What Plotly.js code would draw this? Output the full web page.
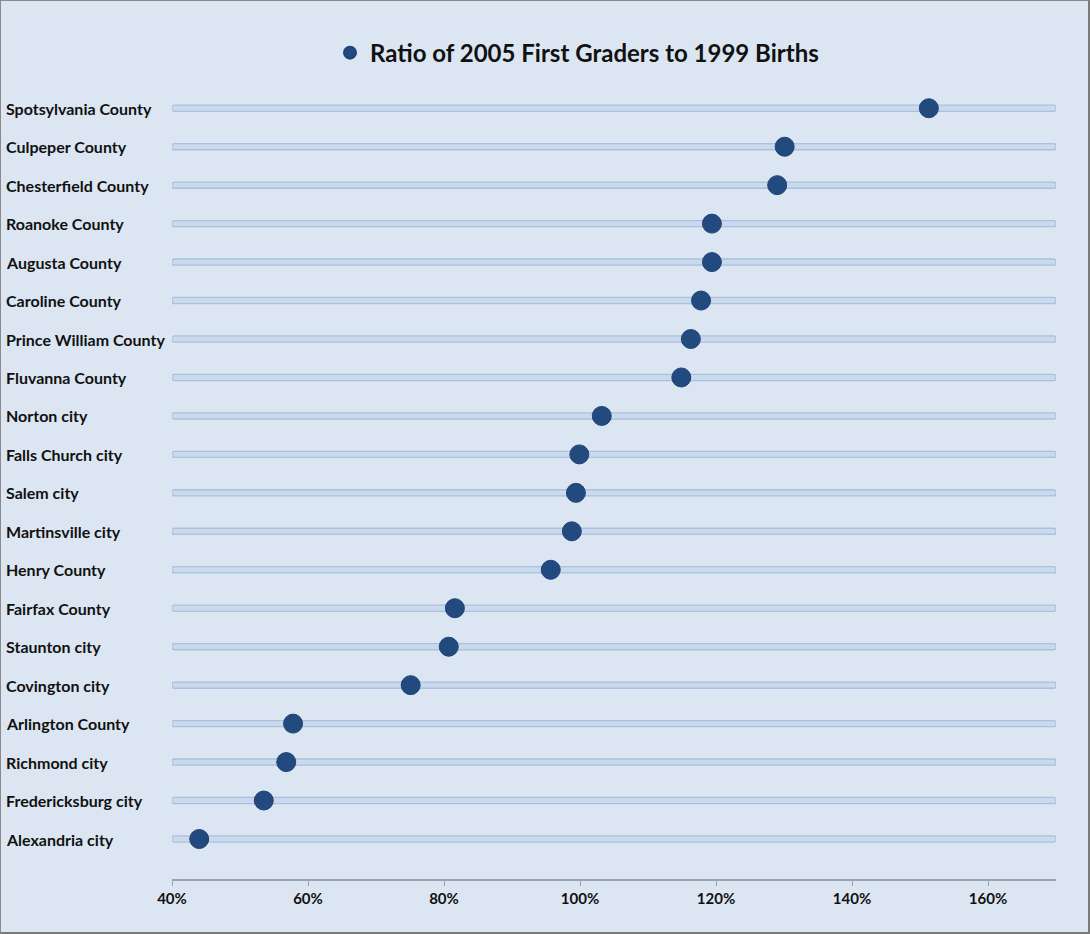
<!DOCTYPE html>
<html>
<head>
<meta charset="utf-8">
<script src="https://cdn.plot.ly/plotly-3.0.1.min.js"></script>
<style>
html,body{margin:0;padding:0;background:#dce6f2;}
#chart{width:1090px;height:934px;box-sizing:border-box;border:1px solid #8a8a8a;border-right:2px solid #7a7a7a;border-bottom:2px solid #7a7a7a;}
</style>
</head>
<body>
<div id="chart"></div>
<script>
// Data (top to bottom as shown)
const places = ["Spotsylvania County","Culpeper County","Chesterfield County","Roanoke County","Augusta County","Caroline County","Prince William County","Fluvanna County","Norton city","Falls Church city","Salem city","Martinsville city","Henry County","Fairfax County","Staunton city","Covington city","Arlington County","Richmond city","Fredericksburg city","Alexandria city"];
const ratios = [1.513,1.301,1.290,1.194,1.194,1.178,1.163,1.149,1.032,0.999,0.994,0.988,0.957,0.816,0.807,0.751,0.578,0.568,0.535,0.440];
const seriesName = "Ratio of 2005 First Graders to 1999 Births";
const tickVals = [0.4,0.6,0.8,1.0,1.2,1.4,1.6];
const tickText = ["40%","60%","80%","100%","120%","140%","160%"];
const axisMin = 0.4, axisMax = 1.7;

const W = 1087, H = 931;
const margin = {l:171, r:W-1055, t:88, b:H-878};
const plotW = W - margin.l - margin.r;

const catOrder = places.slice().reverse();

const track = {
  type:'bar', orientation:'h',
  y: places, x: places.map(()=>axisMax-axisMin), base: axisMin,
  width: 0.16,
  marker:{color:'#cbd9ed', line:{color:'#aac0de', width:1.3}, cornerradius:3},
  hoverinfo:'skip', showlegend:false
};
const dots = {
  type:'scatter', mode:'markers', name: seriesName,
  y: places, x: ratios,
  marker:{color:'#234a7e', size:19, line:{color:'#1f4477', width:1}},
  showlegend:true
};

const annotations = places.map(p => ({
  xref:'paper', yref:'y', x:(3-margin.l)/plotW, y:p,
  xanchor:'left', yanchor:'middle', text:p, showarrow:false,
  font:{family:'Lato, "Open Sans", sans-serif', size:16, color:'#111111', weight:'bold'}
}));

const layout = {
  width: W, height: H,
  margin: margin,
  paper_bgcolor:'#dce6f2', plot_bgcolor:'#dce6f2',
  font:{family:'Lato, "Open Sans", sans-serif'},
  showlegend:true,
  legend:{orientation:'h', x:(329-margin.l)/plotW, xanchor:'left', y:1.0455, yanchor:'middle',
    font:{family:'Lato, "Open Sans", sans-serif', size:24, color:'#111111', weight:'bold'},
    bgcolor:'rgba(0,0,0,0)', itemsizing:'constant', itemwidth:30},
  xaxis:{range:[axisMin,axisMax], tickvals:tickVals, ticktext:tickText,
    showgrid:false, zeroline:false, showline:true, linecolor:'#98a4b2', linewidth:1.5,
    ticks:'outside', ticklen:5, tickcolor:'#98a4b2',
    tickfont:{family:'Lato, "Open Sans", sans-serif', size:15, color:'#111111', weight:'bold'}},
  yaxis:{type:'category', categoryorder:'array', categoryarray:catOrder,
    range:[-1.04,19.5], showticklabels:false, showgrid:false, zeroline:false, showline:false, ticks:''},
  annotations: annotations,
  bargap:0
};

Plotly.newPlot('chart',[track,dots],layout,{displayModeBar:false,staticPlot:true});
</script>
</body>
</html>
